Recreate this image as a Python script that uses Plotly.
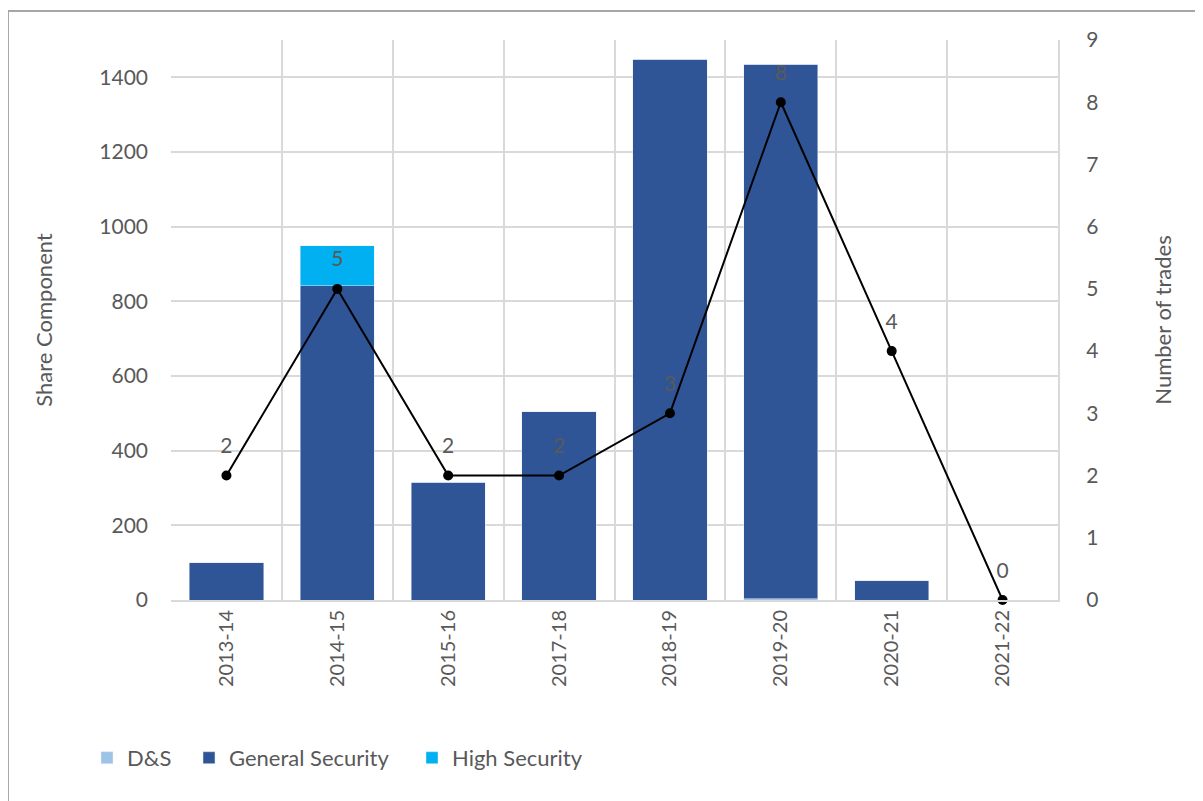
import plotly.graph_objects as go

years = ["2013-14", "2014-15", "2015-16", "2017-18", "2018-19", "2019-20", "2020-21", "2021-22"]
ds = [0, 0, 0, 0, 0, 4, 0, 0]
general = [100, 842, 316, 504, 1448, 1431, 51, 0]
high = [0, 107, 0, 0, 0, 0, 0, 0]
trades = [2, 5, 2, 2, 3, 8, 4, 0]

grey = "#595959"
fam = "Lato, Carlito, sans-serif"
font = dict(family=fam, size=21, color=grey)
title_font = dict(family=fam, size=22, color=grey)

fig = go.Figure()
fig.add_trace(go.Bar(x=years, y=ds, name="D&S", marker_color="#9DC3E6", width=0.67, legend="legend"))
fig.add_trace(go.Bar(x=years, y=general, name="General Security", marker_color="#2F5597", width=0.67,
                     legend="legend2"))
fig.add_trace(go.Bar(x=years, y=high, name="High Security", marker_color="#00B0F0", width=0.67,
                     legend="legend3"))
fig.add_trace(go.Scatter(
    x=years, y=trades, yaxis="y2", mode="lines+markers",
    line=dict(color="black", width=2), marker=dict(color="black", size=10),
    showlegend=False, cliponaxis=False,
))
# labels sit a little higher than plotly's default offset, so use a big invisible marker
fig.add_trace(go.Scatter(
    x=years, y=trades, yaxis="y2", mode="markers+text",
    text=[str(t) for t in trades], textposition="top center",
    textfont=dict(family=fam, size=21, color=grey),
    marker=dict(size=26, opacity=0), hoverinfo="skip",
    showlegend=False, cliponaxis=False,
))

leg = dict(orientation="h", xanchor="left", y=-0.282, yanchor="middle",
           font=dict(family=fam, size=22, color=grey), bgcolor="rgba(0,0,0,0)")

# page body has an 8px margin, so the figure is shrunk by that much
fig.update_layout(
    width=1195, height=793,
    barmode="stack",
    paper_bgcolor="white", plot_bgcolor="white",
    font=font,
    margin=dict(l=163, r=145, t=32, b=201),
    xaxis=dict(
        type="category", range=[-0.5, len(years) - 0.5], tickson="boundaries",
        showgrid=True, gridcolor="#D9D9D9", gridwidth=2,
        tickangle=-90, showline=True, linecolor="#D9D9D9", linewidth=2, ticks="",
        tickfont=dict(family=fam, size=20, color=grey),
    ),
    yaxis=dict(
        range=[0, 1500], dtick=200, showgrid=True, gridcolor="#D9D9D9", gridwidth=2,
        zeroline=False, ticks="", ticklabelstandoff=22,
        title=dict(text="Share Component", standoff=40, font=title_font),
    ),
    yaxis2=dict(
        range=[0, 9], dtick=1, overlaying="y", side="right", showgrid=False,
        zeroline=False, showline=True, linecolor="#D9D9D9", linewidth=2, ticks="",
        ticklabelstandoff=22,
        title=dict(text="Number of trades", standoff=58, font=title_font),
    ),
    legend=dict(leg, x=-0.0947),
    legend2=dict(leg, x=0.0203),
    legend3=dict(leg, x=0.2717),
    shapes=[dict(
        type="rect", xref="paper", yref="paper", x0=-0.1838, x1=1.1714, y0=-0.375, y1=1.0518,
        line=dict(color="#A6A6A6", width=2), layer="below",
    )],
)

fig.write_html("out.html")
